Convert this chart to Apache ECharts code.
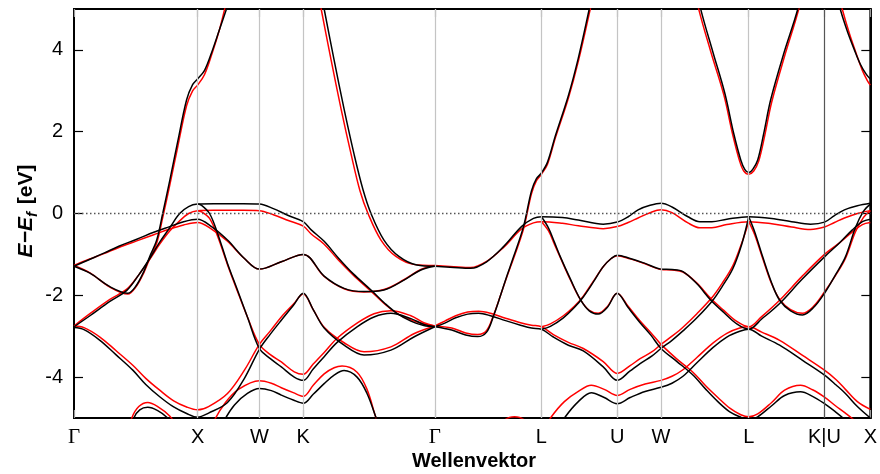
<!DOCTYPE html>
<html><head><meta charset="utf-8">
<script src="https://cdn.jsdelivr.net/npm/echarts@6/dist/echarts.min.js"></script>
<style>html,body{margin:0;padding:0;background:#fff}#c{width:880px;height:474px}</style>
</head><body><div id="c"></div>
<script>
// high-symmetry points along the k-path (path length, arbitrary units)
const kPos = [0,124,186,230,362,469,545,589,677,753,799];
const kLab = ['Γ','X','W','K','Γ','L','U','W','L','K|U','X'];
const yTicks = [-4,-2,0,2,4];

// black bands [k, E-Ef]
const bk1 = [[0,-1.29],[15,-1.13],[30,-0.97],[45,-0.8],[63,-0.63],[80,-0.46],[96,-0.32],[110,-0.2],[124,-0.14],[138,-0.32],[154,-0.65],[171,-1.1],[186,-1.36],[208,-1.18],[230,-1.0],[251,-1.53],[271,-1.83],[291,-1.91],[311,-1.87],[331,-1.63],[348,-1.38],[362,-1.29]];
const bk2 = [[0,-2.77],[16,-2.5],[36,-2.15],[53,-1.88],[65,-1.5],[76,-1.1],[86,-0.7],[96,-0.35],[106,0.0],[115,0.17],[124,0.23],[140,0.24],[170,0.24],[186,0.23],[200,0.12],[215,-0.05],[230,-0.2],[238,-0.4],[251,-0.68],[265,-1.08],[280,-1.47],[298,-1.87],[312,-2.2],[324,-2.44],[338,-2.63],[351,-2.74],[362,-2.77]];
const bk3 = [[0,-1.29],[16,-1.46],[36,-1.79],[54,-1.95],[62,-1.78],[70,-1.42],[76,-1.05],[83,-0.65],[89,0.0],[96,0.8],[104,1.75],[113,2.78],[119,3.15],[124,3.29],[131,3.5],[139,4.0],[146,4.5],[153,5.0],[157,5.3]];
const bk4 = [[0,-2.79],[10,-2.84],[26,-3.1],[42,-3.45],[59,-3.83],[72,-4.18],[86,-4.48],[100,-4.73],[113,-4.89],[124,-4.98],[135,-4.88],[154,-4.62],[171,-4.03],[186,-3.32],[197,-2.95],[208,-2.61],[220,-2.25],[230,-1.95],[240,-2.35],[251,-2.8],[271,-3.22],[291,-3.46],[318,-3.34],[341,-3.02],[362,-2.77]];
const bk5 = [[124,0.23],[128,0.2],[136,0.0],[144,-0.48],[154,-1.22],[164,-1.87],[174,-2.53],[186,-3.3],[197,-3.55],[208,-3.75],[221,-4.0],[230,-4.08],[240,-3.8],[251,-3.5],[264,-3.15],[284,-2.77],[301,-2.53],[318,-2.44],[338,-2.57],[351,-2.71],[362,-2.77]];
const bk6 = [[248,5.4],[251,5.0],[261,3.75],[271,2.55],[281,1.45],[290,0.58],[298,0.0],[311,-0.65],[326,-1.05],[344,-1.26],[362,-1.29]];
const bk7 = [[55,-5.5],[60,-5.0],[66,-4.8],[74,-4.74],[84,-4.82],[94,-5.0],[104,-5.3]];
const bk8 = [[145,-5.4],[151,-5.05],[161,-4.68],[174,-4.4],[186,-4.28],[198,-4.33],[208,-4.44],[220,-4.56],[230,-4.64],[240,-4.42],[251,-4.16],[261,-3.95],[271,-3.84],[284,-4.0],[294,-4.4],[304,-5.05],[310,-5.4]];
const bk9 = [[362,-1.29],[381,-1.32],[398,-1.34],[414,-1.18],[431,-0.81],[449,-0.32],[461,-0.12],[469,-0.08],[490,-0.1],[506,-0.16],[531,-0.26],[545,-0.21],[556,-0.08],[566,0.09],[578,0.2],[589,0.25],[600,0.16],[616,-0.08],[628,-0.2],[640,-0.2],[655,-0.14],[677,-0.08],[700,-0.12],[720,-0.2],[739,-0.26],[753,-0.21],[763,-0.05],[773,0.09],[786,0.19],[799,0.25]];
const bk10 = [[362,-2.77],[379,-2.85],[393,-2.97],[405,-3.01],[414,-2.9],[421,-2.5],[428,-2.0],[434,-1.55],[441,-1.06],[451,-0.32],[459,0.55],[464,0.85],[469,0.99],[475,1.25],[483,1.9],[496,2.88],[506,3.8],[517,5.0],[520,5.35]];
const bk11 = [[362,-2.77],[372,-2.68],[383,-2.55],[395,-2.46],[406,-2.44],[418,-2.5],[433,-2.62],[448,-2.73],[459,-2.8],[469,-2.83],[481,-3.02],[496,-3.22],[511,-3.36],[531,-3.75],[545,-4.08],[558,-3.85],[568,-3.67],[580,-3.48],[589,-3.3],[600,-3.1],[611,-2.87],[625,-2.55],[641,-2.12],[650,-1.8],[661,-1.35],[670,-0.75],[677,-0.08]];
const bk12 = [[469,-0.08],[476,-0.35],[482,-0.7],[488,-1.06],[498,-1.6],[508,-2.1],[517,-2.38],[526,-2.46],[535,-2.3],[545,-1.95],[556,-2.3],[568,-2.67],[579,-2.98],[589,-3.3],[605,-3.62],[621,-3.95],[634,-4.3],[646,-4.6],[658,-4.85],[669,-4.98],[677,-5.05],[686,-4.97],[700,-4.7],[713,-4.45],[729,-4.36],[741,-4.47],[753,-4.65],[764,-4.85],[774,-5.05],[785,-5.3]];
const bk13 = [[469,-2.83],[478,-2.76],[491,-2.55],[502,-2.3],[511,-2.04],[521,-1.68],[531,-1.3],[539,-1.1],[545,-1.02],[558,-1.1],[573,-1.22],[589,-1.36],[600,-1.37],[611,-1.42],[625,-1.72],[639,-2.12],[652,-2.42],[665,-2.7],[677,-2.83],[690,-2.58],[708,-2.2],[730,-1.62],[753,-1.06],[768,-0.72],[781,-0.4],[791,-0.2],[799,-0.14]];
const bk14 = [[485,-5.3],[493,-4.97],[506,-4.6],[519,-4.38],[532,-4.5],[545,-4.65],[558,-4.5],[573,-4.35],[589,-4.25],[600,-4.15],[611,-3.98],[625,-3.65],[641,-3.28],[655,-3.02],[668,-2.88],[677,-2.83],[690,-3.0],[708,-3.22],[731,-3.59],[753,-3.95],[765,-4.2],[774,-4.4],[786,-4.72],[799,-5.0]];
const bk15 = [[677,-0.08],[683,-0.45],[691,-1.06],[700,-1.7],[708,-2.12],[719,-2.38],[731,-2.48],[742,-2.3],[753,-1.95],[764,-1.5],[774,-1.06],[784,-0.35],[792,0.05],[799,0.23]];
const bk16 = [[626,5.4],[629,4.98],[641,3.95],[653,2.94],[662,1.95],[669,1.31],[673,1.08],[677,1.0],[681,1.08],[686,1.31],[692,1.95],[699,2.78],[712,3.9],[726,4.98],[729,5.4]];
const bk17 = [[765,5.4],[769,4.98],[776,4.45],[783,4.0],[789,3.65],[795,3.4],[799,3.29]];

// red bands [k, E-Ef]
const rd1 = [[0,-1.27],[15,-1.12],[30,-0.98],[45,-0.83],[63,-0.67],[80,-0.52],[96,-0.38],[110,-0.28],[124,-0.22],[138,-0.38],[154,-0.68],[171,-1.1],[186,-1.36],[208,-1.18],[230,-1.0],[251,-1.54],[271,-1.84],[291,-1.92],[311,-1.86],[331,-1.62],[348,-1.37],[362,-1.27]];
const rd2 = [[0,-2.75],[16,-2.45],[36,-2.1],[53,-1.85],[65,-1.5],[76,-1.12],[86,-0.75],[96,-0.43],[106,-0.18],[115,0.0],[124,0.07],[140,0.08],[170,0.08],[186,0.07],[200,-0.03],[215,-0.17],[230,-0.31],[238,-0.5],[251,-0.75],[265,-1.13],[280,-1.5],[298,-1.9],[312,-2.22],[324,-2.44],[338,-2.6],[351,-2.7],[362,-2.75]];
const rd3 = [[0,-1.27],[16,-1.45],[36,-1.8],[54,-1.97],[62,-1.8],[70,-1.45],[76,-1.1],[83,-0.72],[89,-0.1],[96,0.68],[104,1.62],[113,2.64],[119,3.0],[124,3.14],[131,3.4],[139,3.95],[146,4.5],[151,4.98],[154,5.3]];
const rd4 = [[0,-2.75],[10,-2.79],[26,-3.02],[42,-3.35],[59,-3.71],[72,-4.03],[86,-4.32],[100,-4.58],[113,-4.73],[124,-4.8],[135,-4.72],[154,-4.4],[171,-3.83],[186,-3.2],[197,-2.87],[208,-2.53],[220,-2.22],[230,-1.97],[240,-2.35],[251,-2.78],[271,-3.16],[291,-3.38],[318,-3.26],[341,-2.94],[362,-2.75]];
const rd5 = [[124,0.07],[128,0.04],[136,-0.12],[144,-0.55],[154,-1.25],[164,-1.9],[174,-2.53],[186,-3.2],[197,-3.45],[208,-3.63],[221,-3.87],[230,-3.93],[240,-3.68],[251,-3.4],[264,-3.05],[284,-2.68],[301,-2.45],[318,-2.38],[338,-2.5],[351,-2.67],[362,-2.75]];
const rd6 = [[245,5.4],[248,5.0],[258,3.75],[268,2.55],[278,1.45],[287,0.55],[295,0.0],[308,-0.65],[323,-1.05],[342,-1.25],[362,-1.27]];
const rd7 = [[53,-5.5],[58,-5.0],[65,-4.72],[74,-4.62],[84,-4.72],[96,-4.95],[106,-5.3]];
const rd8 = [[136,-5.4],[141,-5.05],[152,-4.62],[165,-4.3],[186,-4.09],[198,-4.15],[208,-4.26],[220,-4.38],[230,-4.47],[240,-4.2],[251,-3.92],[261,-3.77],[269,-3.73],[284,-3.88],[294,-4.3],[303,-5.0],[309,-5.4]];
const rd9 = [[362,-1.27],[381,-1.3],[398,-1.32],[414,-1.17],[431,-0.83],[449,-0.38],[461,-0.23],[469,-0.2],[490,-0.24],[506,-0.3],[531,-0.37],[545,-0.32],[556,-0.22],[566,-0.11],[578,0.02],[589,0.09],[600,0.02],[616,-0.23],[628,-0.35],[640,-0.35],[655,-0.27],[677,-0.2],[700,-0.25],[720,-0.33],[739,-0.39],[753,-0.33],[763,-0.22],[773,-0.11],[786,0.0],[799,0.07]];
const rd10 = [[362,-2.75],[379,-2.8],[393,-2.92],[405,-2.96],[414,-2.86],[421,-2.48],[428,-2.0],[434,-1.57],[441,-1.1],[451,-0.38],[459,0.48],[464,0.8],[469,0.96],[475,1.2],[483,1.85],[496,2.82],[506,3.72],[518,5.0],[521,5.35]];
const rd11 = [[362,-2.75],[372,-2.63],[383,-2.5],[395,-2.41],[406,-2.39],[418,-2.44],[433,-2.56],[448,-2.67],[459,-2.73],[469,-2.77],[481,-2.96],[496,-3.15],[511,-3.3],[531,-3.62],[545,-3.91],[558,-3.72],[568,-3.55],[580,-3.38],[589,-3.2],[600,-3.0],[611,-2.78],[625,-2.45],[641,-2.03],[650,-1.72],[661,-1.28],[670,-0.72],[677,-0.2]];
const rd12 = [[469,-0.2],[476,-0.42],[482,-0.75],[488,-1.08],[498,-1.62],[508,-2.1],[517,-2.37],[526,-2.44],[535,-2.28],[545,-1.95],[556,-2.27],[568,-2.63],[579,-2.92],[589,-3.2],[605,-3.56],[621,-3.88],[634,-4.22],[646,-4.5],[658,-4.76],[669,-4.92],[677,-4.97],[686,-4.9],[700,-4.62],[713,-4.32],[729,-4.2],[741,-4.31],[753,-4.49],[764,-4.7],[774,-4.88],[785,-5.1],[795,-5.35]];
const rd13 = [[469,-2.77],[478,-2.7],[491,-2.5],[502,-2.27],[511,-2.02],[521,-1.66],[531,-1.3],[539,-1.1],[545,-1.03],[558,-1.11],[573,-1.23],[589,-1.37],[600,-1.38],[611,-1.43],[625,-1.7],[639,-2.08],[652,-2.37],[665,-2.64],[677,-2.77],[690,-2.52],[708,-2.12],[730,-1.55],[753,-1.0],[768,-0.72],[781,-0.45],[791,-0.27],[799,-0.22]];
const rd14 = [[471,-5.3],[479,-4.97],[492,-4.6],[506,-4.35],[519,-4.2],[532,-4.3],[545,-4.45],[558,-4.3],[573,-4.17],[589,-4.08],[600,-3.98],[611,-3.82],[625,-3.52],[641,-3.17],[655,-2.93],[668,-2.8],[677,-2.77],[690,-2.9],[708,-3.1],[731,-3.47],[753,-3.83],[765,-4.07],[774,-4.3],[786,-4.6],[799,-4.79]];
const rd15 = [[677,-0.2],[683,-0.52],[691,-1.1],[700,-1.72],[708,-2.1],[719,-2.35],[731,-2.44],[742,-2.27],[753,-1.92],[764,-1.52],[774,-1.1],[784,-0.45],[792,-0.1],[799,0.07]];
const rd16 = [[624,5.4],[627,4.98],[639,3.95],[652,2.9],[661,1.92],[668,1.27],[672,1.04],[677,0.96],[682,1.04],[687,1.28],[693,1.9],[700,2.72],[713,3.85],[727,4.98],[730,5.4]];
const rd17 = [[767,5.4],[771,4.98],[778,4.4],[785,3.9],[791,3.5],[796,3.25],[799,3.14]];
const rd18 = [[420,-5.4],[432,-5.05],[442,-4.97],[452,-5.05],[464,-5.4]];

const blackBands = [bk1,bk2,bk3,bk4,bk5,bk6,bk7,bk8,bk9,bk10,bk11,bk12,bk13,bk14,bk15,bk16,bk17];
const redBands = [rd1,rd2,rd3,rd4,rd5,rd6,rd7,rd8,rd9,rd10,rd11,rd12,rd13,rd14,rd15,rd16,rd17,rd18];

const FONT = 'Liberation Sans, Arial, sans-serif';
const chart = echarts.init(document.getElementById('c'), null, {renderer:'canvas', width:880, height:474});

function bandSeries(list, color) {
  return list.map(d => ({
    type:'line', data:d, smooth:0.35, symbol:'none', silent:true, animation:false,
    clip:true, lineStyle:{color:color, width:1.5}
  }));
}

const vLines = kPos.slice(1, -1).map((v, i) => ({
  xAxis: v,
  lineStyle: { color: kLab[i + 1] === 'K|U' ? '#555555' : '#c4c4c4', width: 1.2, type: 'solid' }
}));
vLines.push({ yAxis: 0, lineStyle: { color: '#555555', width: 1.3, type: [1.5, 2.5] } });

const frameLine = { show: true, onZero: false, lineStyle: { color: '#000', width: 2 } };
const option = {
  backgroundColor: '#ffffff',
  animation: false,
  grid: { left: 74, top: 9, width: 799, height: 409, show: true, borderColor: '#000', borderWidth: 2, backgroundColor: 'transparent' },
  xAxis: [{
    type: 'value', min: 0, max: 799, position: 'bottom',
    axisLine: frameLine, splitLine: { show: false },
    axisTick: { show: true, inside: false, length: -8, customValues: kPos, lineStyle: { color: '#999', width: 1.2 } },
    axisLabel: {
      customValues: kPos, margin: 9, color: '#000', fontSize: 20, fontFamily: FONT, hideOverlap: false,
      formatter: v => { const t = kLab[kPos.indexOf(v)]; return t === 'Γ' ? '{g|Γ}' : t; },
      rich: { g: { fontFamily: 'Liberation Serif, serif', fontSize: 21, color: '#000' } }
    }
  }, {
    type: 'value', min: 0, max: 799, position: 'top',
    axisLine: frameLine, splitLine: { show: false }, axisLabel: { show: false },
    axisTick: { show: true, inside: true, length: 8, customValues: kPos, lineStyle: { color: '#999', width: 1.2 } }
  }],
  yAxis: [{
    type: 'value', min: -5, max: 5, position: 'left',
    axisLine: frameLine, splitLine: { show: false },
    axisTick: { show: true, inside: false, length: -9, customValues: yTicks, lineStyle: { color: '#000', width: 1.2 } },
    axisLabel: { customValues: yTicks, margin: 11, color: '#000', fontSize: 20, fontFamily: FONT, formatter: v => String(v) }
  }, {
    type: 'value', min: -5, max: 5, position: 'right',
    axisLine: frameLine, splitLine: { show: false }, axisLabel: { show: false },
    axisTick: { show: true, inside: true, length: 9, customValues: yTicks, lineStyle: { color: '#000', width: 1.2 } }
  }],
  graphic: [
    { type: 'text', x: 474, y: 461, silent: true,
      style: { text: 'Wellenvektor', fontFamily: FONT, fontSize: 20, fontWeight: 'bold', fill: '#000', align: 'center', verticalAlign: 'middle' } },
    { type: 'text', x: 26, y: 211, rotation: Math.PI / 2, silent: true,
      style: { text: '{i|E\u2212E}{s|f}{n| [eV]}', align: 'center', verticalAlign: 'middle',
        rich: {
          i: { fontFamily: FONT, fontSize: 21, fontWeight: 'bold', fontStyle: 'italic', fill: '#000', lineHeight: 28, verticalAlign: 'middle' },
          s: { fontFamily: FONT, fontSize: 15, fontWeight: 'bold', fontStyle: 'italic', fill: '#000', lineHeight: 15, verticalAlign: 'bottom', padding: [0, 2, 0, 0] },
          n: { fontFamily: FONT, fontSize: 21, fontWeight: 'bold', fill: '#000', lineHeight: 28, verticalAlign: 'middle' }
        } } }
  ],
  series: [
    { type: 'line', data: [], silent: true, animation: false,
      markLine: { silent: true, animation: false, symbol: ['none', 'none'], label: { show: false }, data: vLines } }
  ].concat(bandSeries(redBands, '#ff0000'), bandSeries(blackBands, '#000000'))
};
chart.setOption(option);
</script>
</body></html>
